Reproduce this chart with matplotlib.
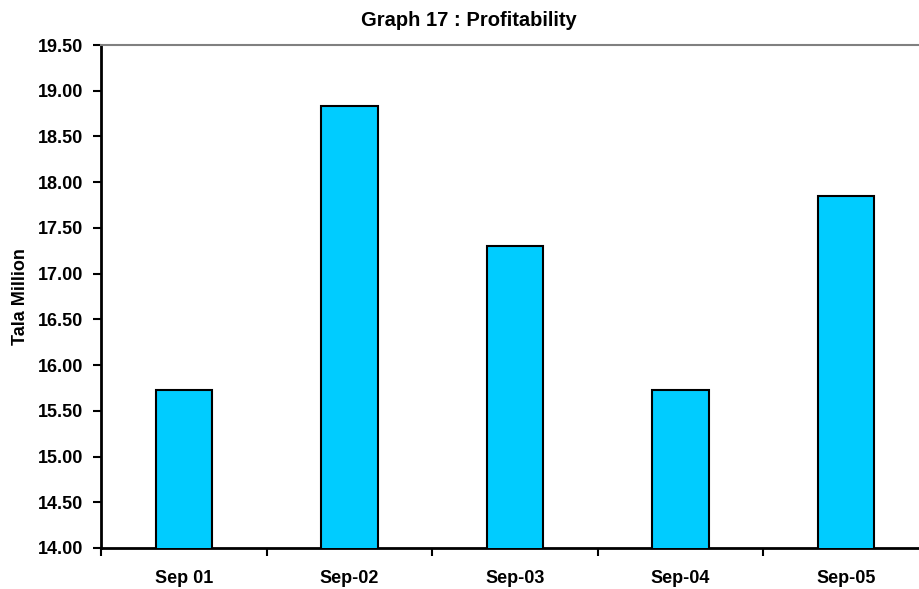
import numpy as np
import matplotlib.pyplot as plt
from matplotlib.ticker import FixedLocator, FormatStrFormatter

# data
periods = ["Sep 01", "Sep-02", "Sep-03", "Sep-04", "Sep-05"]
profit = [15.73, 18.83, 17.30, 15.73, 17.85]
y_ticks = np.arange(14.0, 19.51, 0.5)

plt.rcParams['font.family'] = ['Liberation Sans', 'DejaVu Sans']
plt.rcParams['font.weight'] = 'bold'

W, H = 919, 589
fig = plt.figure(figsize=(W / 100, H / 100), dpi=100)
# axes spans past the right edge, like the original cropped chart
left, right, top, bottom = 101, 929, 45, 548
ax = fig.add_axes([left / W, (H - bottom) / H, (right - left) / W, (bottom - top) / H])

x = np.arange(len(periods))
ax.bar(x, profit, width=0.34, color="#00CCFF", edgecolor="black", linewidth=1.5, zorder=3)

ax.set_xlim(-0.5, len(periods) - 0.5)
ax.set_ylim(14.0, 19.5)
ax.set_yticks(y_ticks)
ax.yaxis.set_major_formatter(FormatStrFormatter("%.2f"))
ax.tick_params(axis="y", direction="out", length=6, width=1.5, pad=7, labelsize=13)

ax.set_xticks(x)
ax.set_xticklabels(periods, fontsize=13, fontweight="bold")
ax.xaxis.set_minor_locator(FixedLocator(np.arange(-0.5, len(periods), 1.0)))
ax.tick_params(axis="x", which="major", length=0, pad=16)
ax.tick_params(axis="x", which="minor", direction="out", length=6, width=1.5)

for s in ["left", "bottom"]:
    ax.spines[s].set_linewidth(2)
    ax.spines[s].set_color("black")
ax.spines["top"].set_color("#808080")
ax.spines["top"].set_linewidth(1.5)
ax.spines["right"].set_visible(False)

ax.set_ylabel("Tala Million", fontsize=13, fontweight="bold", labelpad=6)
fig.text(469 / W, 1 - 20 / H, "Graph 17 : Profitability", ha="center", va="center",
         fontsize=14.5, fontweight="bold")

fig.savefig("out.png", dpi=100)
